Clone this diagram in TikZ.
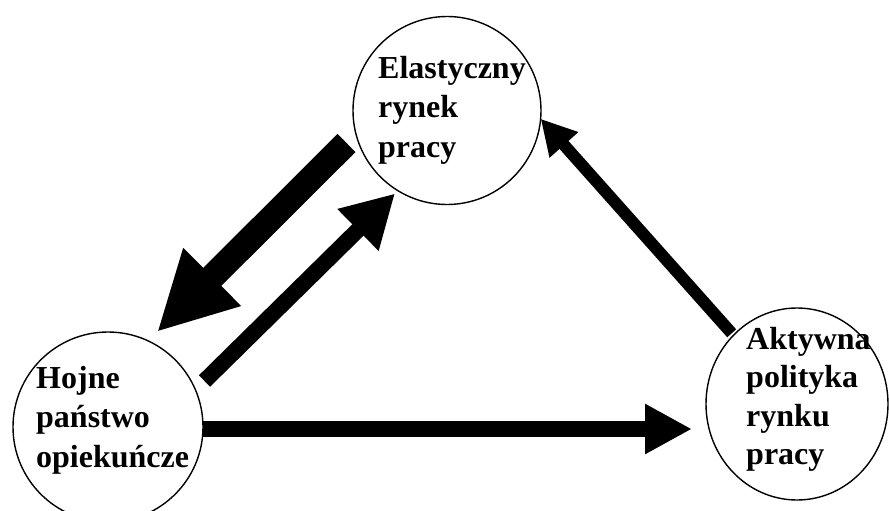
\documentclass[tikz,border=0pt]{standalone}
\usepackage{fontspec}
\setmainfont{Liberation Serif}
\usetikzlibrary{arrows.meta,calc,shapes.geometric}
\tikzset{
  bubble/.style={draw, circle, line width=1.4pt, inner sep=0pt, fill=white},
  oval/.style={draw, ellipse, line width=1.4pt, inner sep=0pt, fill=white},
  label/.style={anchor=base west, inner sep=0pt, font=\bfseries\fontsize{32}{37}\selectfont},
  bigarrow/.style={line width=25.5pt, -{Triangle[length=78pt,width=76pt]}},
  midarrow/.style={line width=16pt, -{Triangle[length=52pt,width=55pt]}},
  flatarrow/.style={line width=16pt, -{Triangle[length=47pt,width=47pt]}},
  thinarrow/.style={line width=12pt, -{Triangle[length=35pt,width=36pt]}}
}
\begin{document}
\begin{tikzpicture}[x=1pt,y=-1pt]
\useasboundingbox (0,0) rectangle (889,511);
\fill[white] (0,0) rectangle (889,511);
\node[bubble, minimum size=188pt] (elast) at (447,110.5) {};
\node[bubble, minimum size=190pt] (hojne) at (108,427) {};
\node[oval, minimum width=182pt, minimum height=192pt] (akt) at (797,404) {};
\node[label] (telast) at (378,78) {\begin{tabular}[t]{@{}l@{}}Elastyczny\\[2.5pt]rynek\\[2.5pt]pracy\end{tabular}};
\node[label] (thojne) at (36,388) {\begin{tabular}[t]{@{}l@{}}Hojne\\[2.5pt]państwo\\[2.5pt]opiekuńcze\end{tabular}};
\node[label] (takt) at (746,349) {\begin{tabular}[t]{@{}l@{}}Aktywna\\[1.5pt]polityka\\[1.5pt]rynku\\[1.5pt]pracy\end{tabular}};
\draw[bigarrow] ($(elast.center)+(-100.5,32.5)$) -- ($(hojne.center)+(49,-95)$);
\draw[midarrow] ($(hojne.center)+(96.5,-46)$) -- ($(elast.center)+(-52,83)$);
\draw[flatarrow] ($(hojne.center)+(95,2)$) -- ($(akt.center)+(-105,25)$);
\draw[thinarrow] ($(akt.center)+(-65.3,-70.7)$) -- ($(elast.center)+(93.7,8.3)$);
\end{tikzpicture}
\end{document}
